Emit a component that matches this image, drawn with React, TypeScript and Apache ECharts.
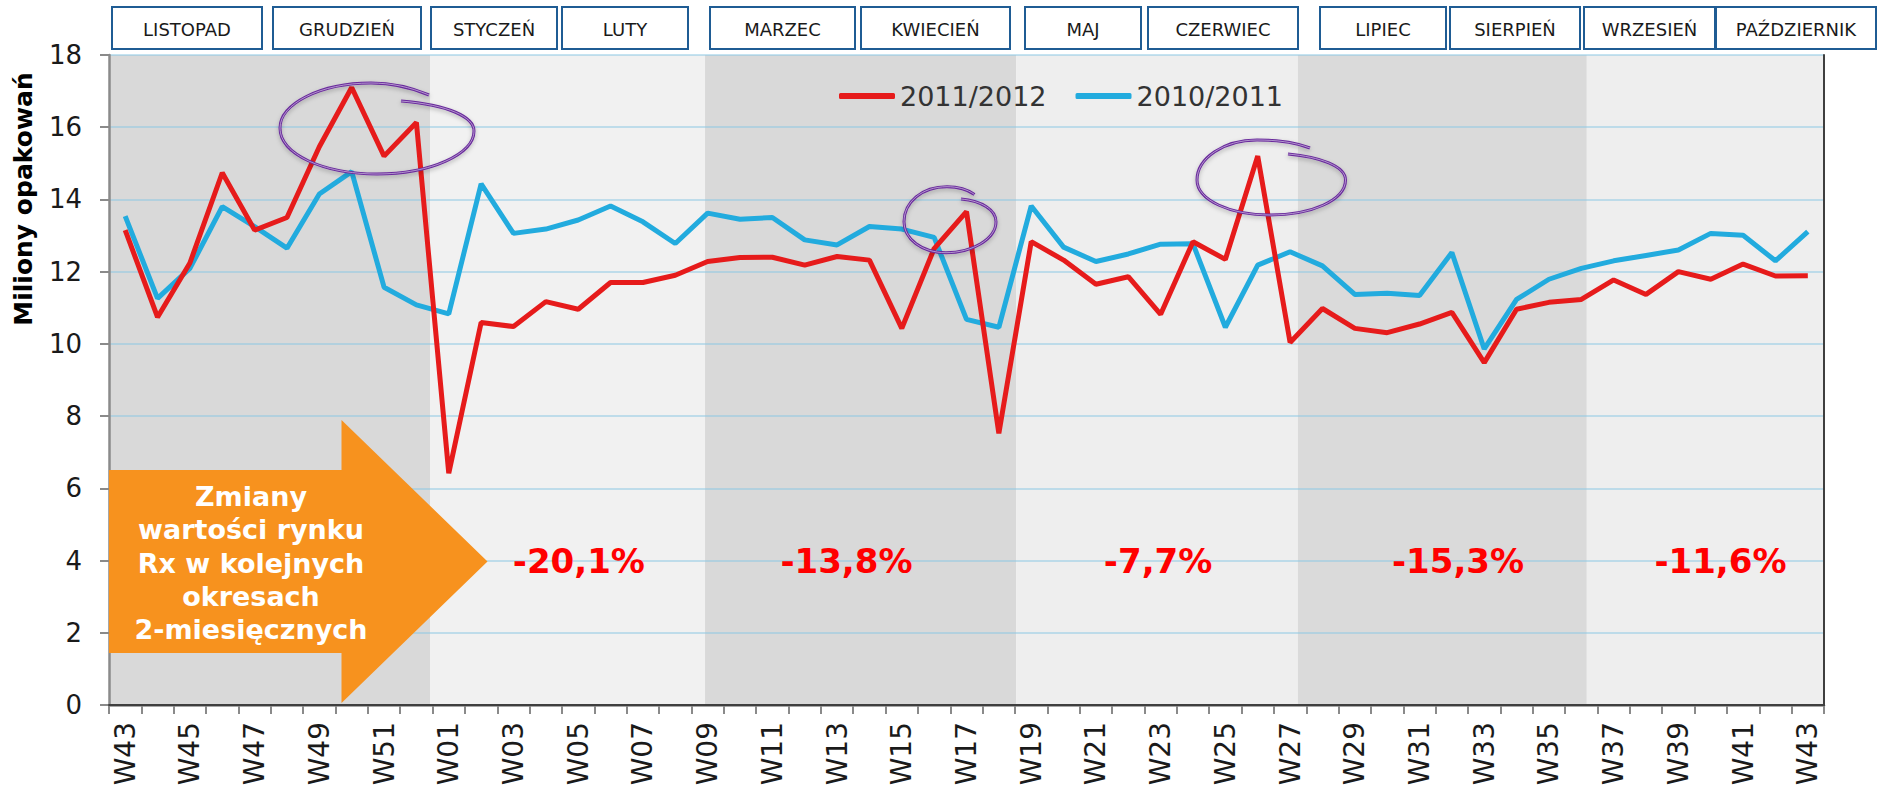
import React, { useEffect, useRef } from 'react';
import * as echarts from 'echarts';

// ---------- data ----------
const WEEKS = [
  'W43', 'W44', 'W45', 'W46', 'W47', 'W48', 'W49', 'W50', 'W51', 'W52',
  'W01', 'W02', 'W03', 'W04', 'W05', 'W06', 'W07', 'W08', 'W09', 'W10',
  'W11', 'W12', 'W13', 'W14', 'W15', 'W16', 'W17', 'W18', 'W19', 'W20',
  'W21', 'W22', 'W23', 'W24', 'W25', 'W26', 'W27', 'W28', 'W29', 'W30',
  'W31', 'W32', 'W33', 'W34', 'W35', 'W36', 'W37', 'W38', 'W39', 'W40',
  'W41', 'W42', 'W43',
];

const SERIES_2011_2012 = [
  13.15, 10.74, 12.24, 14.74, 13.15, 13.5, 15.46, 17.1, 15.2, 16.13,
  6.42, 10.59, 10.48, 11.17, 10.96, 11.7, 11.7, 11.9, 12.28, 12.39,
  12.4, 12.18, 12.42, 12.32, 10.43, 12.64, 13.66, 7.52, 12.83, 12.32,
  11.65, 11.86, 10.82, 12.83, 12.34, 15.2, 10.04, 10.98, 10.43, 10.31,
  10.55, 10.87, 9.48, 10.96, 11.15, 11.23, 11.77, 11.37, 12.0, 11.79,
  12.21, 11.88, 11.89,
];

const SERIES_2010_2011 = [
  13.54, 11.26, 12.09, 13.8, 13.25, 12.65, 14.15, 14.77, 11.57, 11.08,
  10.83, 14.43, 13.06, 13.18, 13.43, 13.82, 13.38, 12.78, 13.62, 13.45,
  13.5, 12.88, 12.74, 13.25, 13.18, 12.95, 10.68, 10.46, 13.82, 12.68,
  12.28, 12.49, 12.76, 12.77, 10.46, 12.18, 12.55, 12.16, 11.37, 11.4,
  11.34, 12.53, 9.86, 11.23, 11.79, 12.09, 12.3, 12.45, 12.6, 13.06,
  13.01, 12.3, 13.11,
];

const SERIES_NAMES = ['2011/2012', '2010/2011'];

const Y_TICKS = { min: 0, max: 18, interval: 2 };

const MONTHS = [
  'LISTOPAD', 'GRUDZIEŃ', 'STYCZEŃ', 'LUTY', 'MARZEC', 'KWIECIEŃ',
  'MAJ', 'CZERWIEC', 'LIPIEC', 'SIERPIEŃ', 'WRZESIEŃ', 'PAŹDZIERNIK',
];

// two-month periods, in week units along the x axis (0 .. 53)
const PERIOD_EDGES = [0, 9.92, 18.42, 28.04, 36.74, 45.67, 53];
const PERIOD_CHANGES = ['-20,1%', '-13,8%', '-7,7%', '-15,3%', '-11,6%'];

const ARROW_TEXT = 'Zmiany\nwartości rynku\nRx w kolejnych\nokresach\n2-miesięcznych';
const Y_TITLE = 'Miliony opakowań';

// ---------- layout / style ----------
const PERIOD_COLORS = ['#d9d9d9', '#f1f1f1', '#d9d9d9', '#eeeeee', '#dadada', '#eeeeee'];
const CHANGE_POS_X = [14.52, 22.79, 32.42, 41.69, 49.8];
const CHANGE_POS_Y = 4;
const MONTH_BOX_X: number[][] = [
  [112, 262], [273, 421], [431, 557], [562, 688], [710, 855], [861, 1010],
  [1025, 1141], [1148, 1298], [1320, 1446], [1450, 1580], [1584, 1715], [1716, 1876],
];
const ARROW_POINTS = [
  [109, 470], [341.5, 470], [341.5, 420], [487.5, 561.5], [341.5, 703], [341.5, 653], [109, 653],
];

const LOOPS: Record<string, string> = {
  loop1: 'M 429 95 C 410 87 391 83 371 83 C 320 83 280 104 280 128 C 280 154 323 174 377 174 C 431 174 474 154 474 131 C 474 117 449 105 401 101',
  loop2: 'M 974.5 194.5 C 967 189 957 186.7 947 186.7 C 922 186.7 904 202 904 221.7 C 904 239 922 252.7 946 252.7 C 972 252.7 996 239 996 221.7 C 996 210 982 201 961 199',
  loop3: 'M 1310 148 C 1294 142 1276 140 1257 140 C 1224 140 1197 158 1197 180 C 1197 200 1230 215 1270 215 C 1312 215 1345.5 200 1345.5 180 C 1345.5 166 1320 157 1288 154',
};
Object.keys(LOOPS).forEach((k) => {
  echarts.graphic.registerShape(k, echarts.graphic.extendPath(LOOPS[k], {}));
});

const RED = '#e61b1b';
const BLUE = '#22abde';
const FONT = 'DejaVu Sans';

export default function App() {
  const ref = useRef<HTMLDivElement>(null);

  useEffect(() => {
    document.body.style.margin = '0';
    if (!ref.current) return;
    const chart = echarts.init(ref.current, undefined, { renderer: 'svg' });

    const bands = PERIOD_COLORS.map((c, i) => [
      { xAxis: PERIOD_EDGES[i], itemStyle: { color: c } },
      { xAxis: PERIOD_EDGES[i + 1] },
    ]);

    const changePoints = PERIOD_CHANGES.map((t, i) => ({
      name: t,
      coord: [CHANGE_POS_X[i], CHANGE_POS_Y],
      value: 0,
    }));

    const graphic: any[] = [];

    // orange arrow
    graphic.push({
      type: 'polygon',
      z: 4,
      shape: { points: ARROW_POINTS },
      style: { fill: '#f7921e' },
    });
    graphic.push({
      type: 'text',
      z: 5,
      x: 251,
      y: 563,
      style: {
        text: ARROW_TEXT,
        font: `bold 27px "${FONT}"`,
        fill: '#ffffff',
        textAlign: 'center',
        textVerticalAlign: 'middle',
        lineHeight: 33.3,
      },
    });

    // y axis title
    graphic.push({
      type: 'text',
      z: 5,
      x: 23,
      y: 199,
      rotation: Math.PI / 2,
      style: {
        text: Y_TITLE,
        font: `bold 25px "${FONT}"`,
        fill: '#000000',
        textAlign: 'center',
        textVerticalAlign: 'middle',
      },
    });

    // month boxes
    MONTHS.forEach((m, i) => {
      const [x1, x2] = MONTH_BOX_X[i];
      graphic.push({
        type: 'rect',
        z: 5,
        shape: { x: x1, y: 7, width: x2 - x1, height: 42 },
        style: { fill: '#ffffff', stroke: '#1f5c94', lineWidth: 2 },
      });
      graphic.push({
        type: 'text',
        z: 6,
        x: (x1 + x2) / 2,
        y: 29,
        style: {
          text: m,
          font: `18px "${FONT}"`,
          fill: '#1a1a1a',
          textAlign: 'center',
          textVerticalAlign: 'middle',
        },
      });
    });

    // hand drawn loops (double purple stroke)
    Object.keys(LOOPS).forEach((k) => {
      graphic.push({
        type: k,
        z: 7,
        style: {
          fill: 'none',
          stroke: '#6a2c9c',
          lineWidth: 3,
          shadowBlur: 4,
          shadowColor: 'rgba(0,0,0,0.25)',
          shadowOffsetY: 2,
        },
      });
      graphic.push({
        type: k,
        z: 8,
        style: { fill: 'none', stroke: '#c7b3dc', lineWidth: 0.8 },
      });
    });

    const option: any = {
      animation: false,
      backgroundColor: '#ffffff',
      textStyle: { fontFamily: FONT },
      grid: { left: 109, right: 56, top: 55, bottom: 85, containLabel: false },
      legend: {
        data: SERIES_NAMES,
        left: 839,
        top: 80,
        padding: 0,
        icon: 'roundRect',
        itemWidth: 56,
        itemHeight: 6,
        itemGap: 29,
        textStyle: { fontSize: 27, color: '#333333', fontFamily: FONT, lineHeight: 32 },
      },
      xAxis: [
        {
          type: 'category',
          data: WEEKS,
          boundaryGap: true,
          z: 1.5,
          axisLine: { show: true, lineStyle: { color: '#8a8a8a', width: 2.5 } },
          axisTick: { show: true, interval: 0, length: 9, lineStyle: { color: '#8a8a8a', width: 2 } },
          axisLabel: {
            interval: 1,
            rotate: 90,
            margin: 17,
            fontSize: 28,
            color: '#1a1a1a',
            fontFamily: FONT,
          },
          splitLine: { show: false },
        },
        {
          type: 'value',
          min: 0,
          max: WEEKS.length,
          position: 'top',
          z: 3,
          axisLine: { show: true, lineStyle: { color: '#3f3f3f', width: 2 } },
          axisTick: { show: false },
          axisLabel: { show: false },
          splitLine: { show: false },
        },
      ],
      yAxis: [
        {
          type: 'value',
          min: Y_TICKS.min,
          max: Y_TICKS.max,
          interval: Y_TICKS.interval,
          z: 1.5,
          axisLine: { show: true, lineStyle: { color: '#8a8a8a', width: 2.5 } },
          axisTick: { show: true, length: 9, lineStyle: { color: '#8a8a8a', width: 2 } },
          axisLabel: { margin: 27, fontSize: 26, color: '#1a1a1a', fontFamily: FONT },
          splitLine: { show: true, lineStyle: { color: 'rgba(140,200,228,0.5)', width: 2 } },
        },
        {
          type: 'value',
          min: Y_TICKS.min,
          max: Y_TICKS.max,
          position: 'right',
          z: 3,
          axisLine: { show: true, lineStyle: { color: '#3f3f3f', width: 2 } },
          axisTick: { show: false },
          axisLabel: { show: false },
          splitLine: { show: false },
        },
      ],
      series: [
        {
          name: 'periods',
          type: 'line',
          xAxisIndex: 1,
          yAxisIndex: 0,
          data: [],
          silent: true,
          markArea: { silent: true, z: 1, data: bands },
          markPoint: {
            silent: true,
            symbol: 'rect',
            symbolSize: 1,
            itemStyle: { color: 'rgba(0,0,0,0)' },
            label: {
              show: true,
              position: 'inside',
              formatter: (p: any) => p.name,
              color: '#ff0000',
              fontSize: 34,
              fontWeight: 'bold',
              fontFamily: FONT,
            },
            data: changePoints,
          },
        },
        {
          name: SERIES_NAMES[1],
          type: 'line',
          data: SERIES_2010_2011,
          symbol: 'none',
          z: 2,
          lineStyle: { color: BLUE, width: 5 },
          itemStyle: { color: BLUE },
        },
        {
          name: SERIES_NAMES[0],
          type: 'line',
          data: SERIES_2011_2012,
          symbol: 'none',
          z: 2,
          lineStyle: { color: RED, width: 5 },
          itemStyle: { color: RED },
        },
      ],
      graphic,
    };

    chart.setOption(option);
    return () => {
      chart.dispose();
    };
  }, []);

  return (
    <div
      ref={ref}
      style={{ position: 'fixed', left: 0, top: 0, width: 1880, height: 790 }}
    />
  );
}
